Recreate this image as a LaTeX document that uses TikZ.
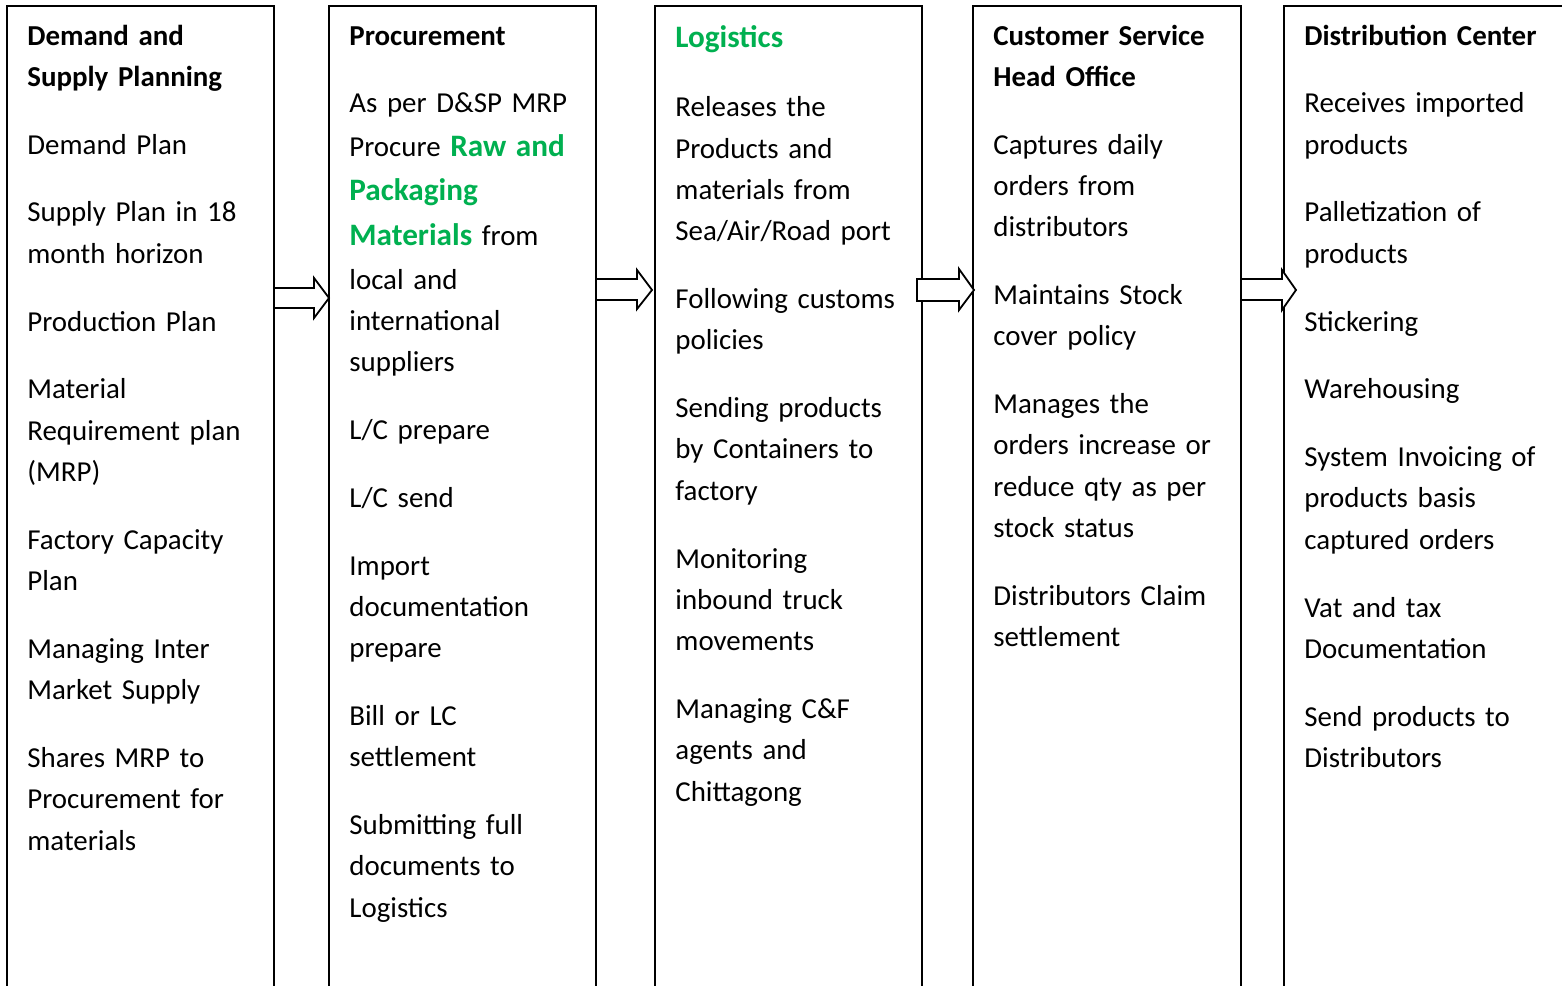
\documentclass[tikz,border=0pt]{standalone}
\usepackage{fontspec}
\setmainfont{Carlito}

\definecolor{flowgreen}{HTML}{00B050}
\newcommand{\colfont}{\fontsize{14.45}{20.65}\selectfont}
\newcommand{\greenbf}[1]{{\fontsize{15.6}{20.65}\selectfont\bfseries\color{flowgreen}#1}}
\newcommand{\pgap}{13.25pt}

\begin{document}
\begin{tikzpicture}[x=0.5pt,y=-0.5pt,
  colbox/.style={line width=1pt},
  blockarrow/.style={draw,line width=0.9pt,fill=white,line join=miter},
  coltext/.style={anchor=base west,inner sep=0pt,text width=120pt,align=left,font=\colfont}]
  \clip (0,0) rectangle (1562,985);
  \fill[white] (0,0) rectangle (1562,985);

  % columns
  \draw[colbox] (7,6) rectangle (274,1000);
  \draw[colbox] (329,6) rectangle (596,1000);
  \draw[colbox] (655,6) rectangle (922,1000);
  \draw[colbox] (973,6) rectangle (1241,1000);
  \draw[colbox] (1284,6) rectangle (1600,1000);

  % block arrows
  \draw[blockarrow] (274,288) -- (314,288) -- (314,278) -- (329,298) -- (314,318) -- (314,308) -- (274,308) -- cycle;
  \draw[blockarrow] (596,279) -- (637,279) -- (637,270) -- (652,290) -- (637,309) -- (637,300) -- (596,300) -- cycle;
  \draw[blockarrow] (917,279) -- (959,279) -- (959,269) -- (974,290) -- (959,310) -- (959,301) -- (917,301) -- cycle;
  \draw[blockarrow] (1241,279) -- (1282,279) -- (1282,270) -- (1296,290) -- (1282,310) -- (1282,300) -- (1241,300) -- cycle;

  \node[coltext] (dsp) at (27,45) {\textbf{Demand and}\\\textbf{Supply Planning}\\[\pgap]
    Demand Plan\\[\pgap]
    Supply Plan in 18\\month horizon\\[\pgap]
    Production Plan\\[\pgap]
    Material\\Requirement plan\\(MRP)\\[\pgap]
    Factory Capacity\\Plan\\[\pgap]
    Managing Inter\\Market Supply\\[\pgap]
    Shares MRP to\\Procurement for\\materials};

  \node[coltext] (proc) at (349,45) {\textbf{Procurement}\\[\pgap]
    As per D\&SP MRP\\[1pt]
    Procure \greenbf{Raw and}\\[1.5pt]
    \greenbf{Packaging}\\[2pt]
    \greenbf{Materials} from\\[1pt]
    local and\\international\\suppliers\\[\pgap]
    L/C prepare\\[\pgap]
    L/C send\\[\pgap]
    Import\\documentation\\prepare\\[\pgap]
    Bill or LC\\settlement\\[\pgap]
    Submitting full\\documents to\\Logistics};

  \node[coltext] (logi) at (675,47) {\greenbf{Logistics}\\[14.25pt]
    Releases the\\Products and\\materials from\\Sea/Air/Road port\\[\pgap]
    Following customs\\policies\\[\pgap]
    Sending products\\by Containers to\\factory\\[\pgap]
    Monitoring\\inbound truck\\movements\\[\pgap]
    Managing C\&F\\agents and\\Chittagong};

  \node[coltext] (cs) at (993,45) {\textbf{Customer Service}\\\textbf{Head Office}\\[\pgap]
    Captures daily\\orders from\\distributors\\[\pgap]
    Maintains Stock\\cover policy\\[\pgap]
    Manages the\\orders increase or\\reduce qty as per\\stock status\\[\pgap]
    Distributors Claim\\settlement};

  \node[coltext] (dc) at (1304,45) {\textbf{Distribution Center}\\[\pgap]
    Receives imported\\products\\[\pgap]
    Palletization of\\products\\[\pgap]
    Stickering\\[\pgap]
    Warehousing\\[\pgap]
    System Invoicing of\\products basis\\captured orders\\[\pgap]
    Vat and tax\\Documentation\\[\pgap]
    Send products to\\Distributors};
\end{tikzpicture}
\end{document}
